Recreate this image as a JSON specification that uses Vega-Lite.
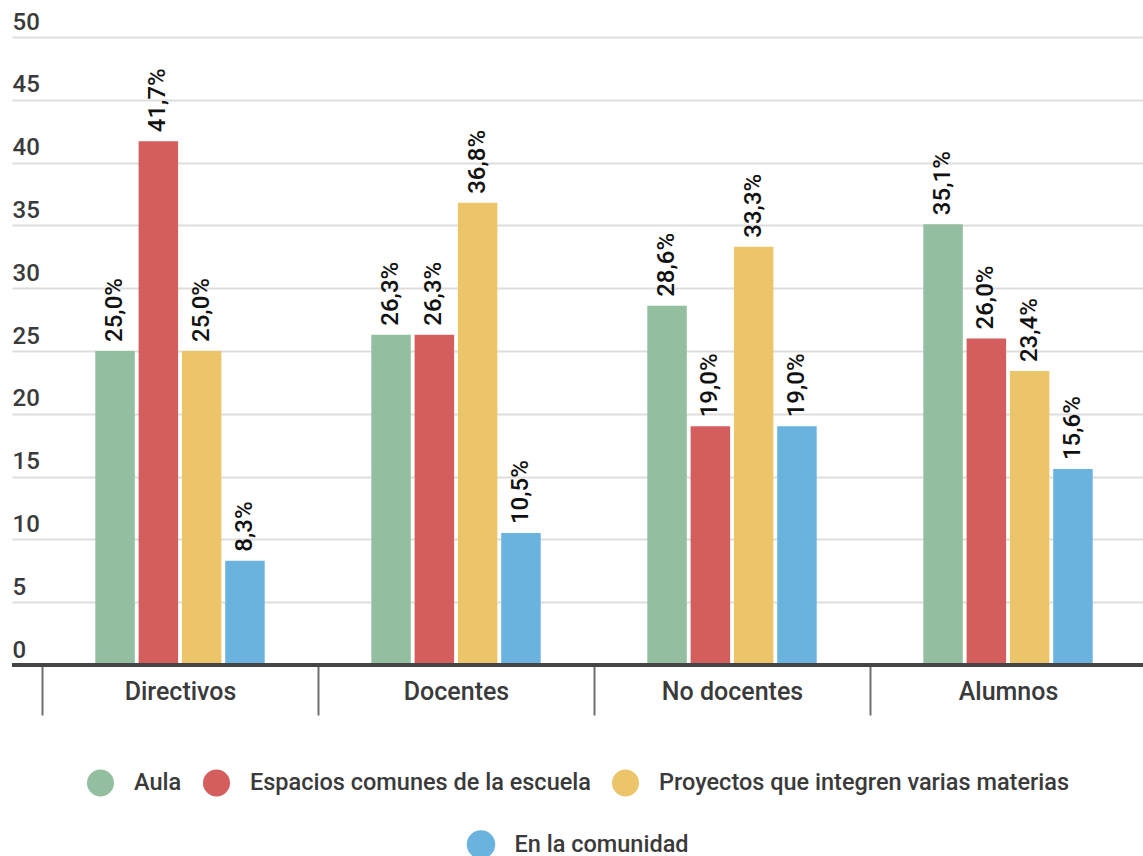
{
  "$schema": "https://vega.github.io/schema/vega-lite/v6.json",
  "width": 1131,
  "height": 628,
  "autosize": {"type": "none"},
  "padding": {"left": 12, "top": 37, "right": 0, "bottom": 191},
  "config": {
    "view": {"stroke": null},
    "font": "Roboto",
    "legend": {
      "layout": {"bottom": {"anchor": "middle", "direction": "vertical", "center": true, "margin": 33}}
    }
  },
  "data": {
    "values": [
      {"grupo": "Directivos", "lugar": "Aula", "valor": 25.0},
      {"grupo": "Directivos", "lugar": "Espacios comunes de la escuela", "valor": 41.7},
      {"grupo": "Directivos", "lugar": "Proyectos que integren varias materias", "valor": 25.0},
      {"grupo": "Directivos", "lugar": "En la comunidad", "valor": 8.3},
      {"grupo": "Docentes", "lugar": "Aula", "valor": 26.3},
      {"grupo": "Docentes", "lugar": "Espacios comunes de la escuela", "valor": 26.3},
      {"grupo": "Docentes", "lugar": "Proyectos que integren varias materias", "valor": 36.8},
      {"grupo": "Docentes", "lugar": "En la comunidad", "valor": 10.5},
      {"grupo": "No docentes", "lugar": "Aula", "valor": 28.6},
      {"grupo": "No docentes", "lugar": "Espacios comunes de la escuela", "valor": 19.0},
      {"grupo": "No docentes", "lugar": "Proyectos que integren varias materias", "valor": 33.3},
      {"grupo": "No docentes", "lugar": "En la comunidad", "valor": 19.0},
      {"grupo": "Alumnos", "lugar": "Aula", "valor": 35.1},
      {"grupo": "Alumnos", "lugar": "Espacios comunes de la escuela", "valor": 26.0},
      {"grupo": "Alumnos", "lugar": "Proyectos que integren varias materias", "valor": 23.4},
      {"grupo": "Alumnos", "lugar": "En la comunidad", "valor": 15.6}
    ]
  },
  "transform": [
    {"calculate": "replace(format(datum.valor, '.1f'), '.', ',') + '%'", "as": "etiqueta"}
  ],
  "encoding": {
    "x": {
      "field": "grupo",
      "type": "nominal",
      "sort": ["Directivos", "Docentes", "No docentes", "Alumnos"],
      "scale": {"range": [0, 1164], "paddingInner": 0, "paddingOuter": 0.1087},
      "axis": {
        "title": null,
        "domain": false,
        "tickBand": "extent",
        "tickSize": 50,
        "tickWidth": 2,
        "tickColor": "#6e6e6e",
        "labelPadding": -36,
        "labelAngle": 0,
        "labelFontSize": 25,
        "labelFontWeight": 500,
        "labelColor": "#3a3a3a",
        "labelBaseline": "top"
      }
    },
    "xOffset": {
      "field": "lugar",
      "scale": {
        "domain": ["_izq", "Aula", "Espacios comunes de la escuela", "Proyectos que integren varias materias", "En la comunidad", "_der"],
        "paddingInner": 0.088,
        "paddingOuter": 0.231
      }
    },
    "y": {
      "field": "valor",
      "type": "quantitative",
      "scale": {"domain": [0, 50], "nice": false},
      "axis": {
        "title": null,
        "values": [0, 5, 10, 15, 20, 25, 30, 35, 40, 45, 50],
        "domain": false,
        "ticks": false,
        "grid": true,
        "gridColor": "#dddddd",
        "gridWidth": 2,
        "labelAlign": "left",
        "labelBaseline": "alphabetic",
        "labelOffset": -8,
        "labelPadding": 0,
        "labelFontSize": 24,
        "labelFontWeight": 500,
        "labelColor": "#3a3a3a"
      }
    }
  },
  "layer": [
    {
      "mark": {"type": "bar", "strokeWidth": 0},
      "encoding": {
        "color": {
          "field": "lugar",
          "type": "nominal",
          "scale": {
            "domain": ["Aula", "Espacios comunes de la escuela", "Proyectos que integren varias materias", "En la comunidad"],
            "range": ["#93bea0", "#d45d5d", "#ecc56b", "#6ab3de"]
          },
          "legend": {
            "values": ["Aula", "Espacios comunes de la escuela", "Proyectos que integren varias materias"],
            "orient": "bottom",
            "direction": "horizontal",
            "title": null,
            "symbolType": "circle",
            "symbolSize": 730,
            "symbolOpacity": 1,
            "labelFontSize": 23.5,
            "labelFontWeight": 500,
            "labelColor": "#3a3a3a",
            "labelLimit": 0,
            "labelOffset": 19,
            "columnPadding": 20,
            "offset": 52
          }
        },
        "stroke": {
          "field": "lugar",
          "type": "nominal",
          "scale": {"domain": ["En la comunidad"], "range": ["#6ab3de"]},
          "legend": {
            "orient": "bottom",
            "direction": "horizontal",
            "title": null,
            "symbolType": "circle",
            "symbolSize": 730,
            "symbolFillColor": "#6ab3de",
            "symbolStrokeColor": "#6ab3de",
            "symbolOpacity": 1,
            "labelFontSize": 23.5,
            "labelFontWeight": 500,
            "labelColor": "#3a3a3a",
            "labelLimit": 0,
            "labelOffset": 19,
            "offset": 52
          }
        }
      }
    },
    {
      "mark": {
        "type": "text",
        "angle": 270,
        "align": "left",
        "baseline": "middle",
        "dx": 9,
        "fontSize": 24,
        "fontWeight": 500,
        "color": "#111111"
      },
      "encoding": {
        "text": {"field": "etiqueta"}
      }
    },
    {
      "mark": {"type": "rule", "color": "#444444", "strokeWidth": 3},
      "encoding": {"y": {"datum": 0}, "x": null, "xOffset": null}
    }
  ]
}
